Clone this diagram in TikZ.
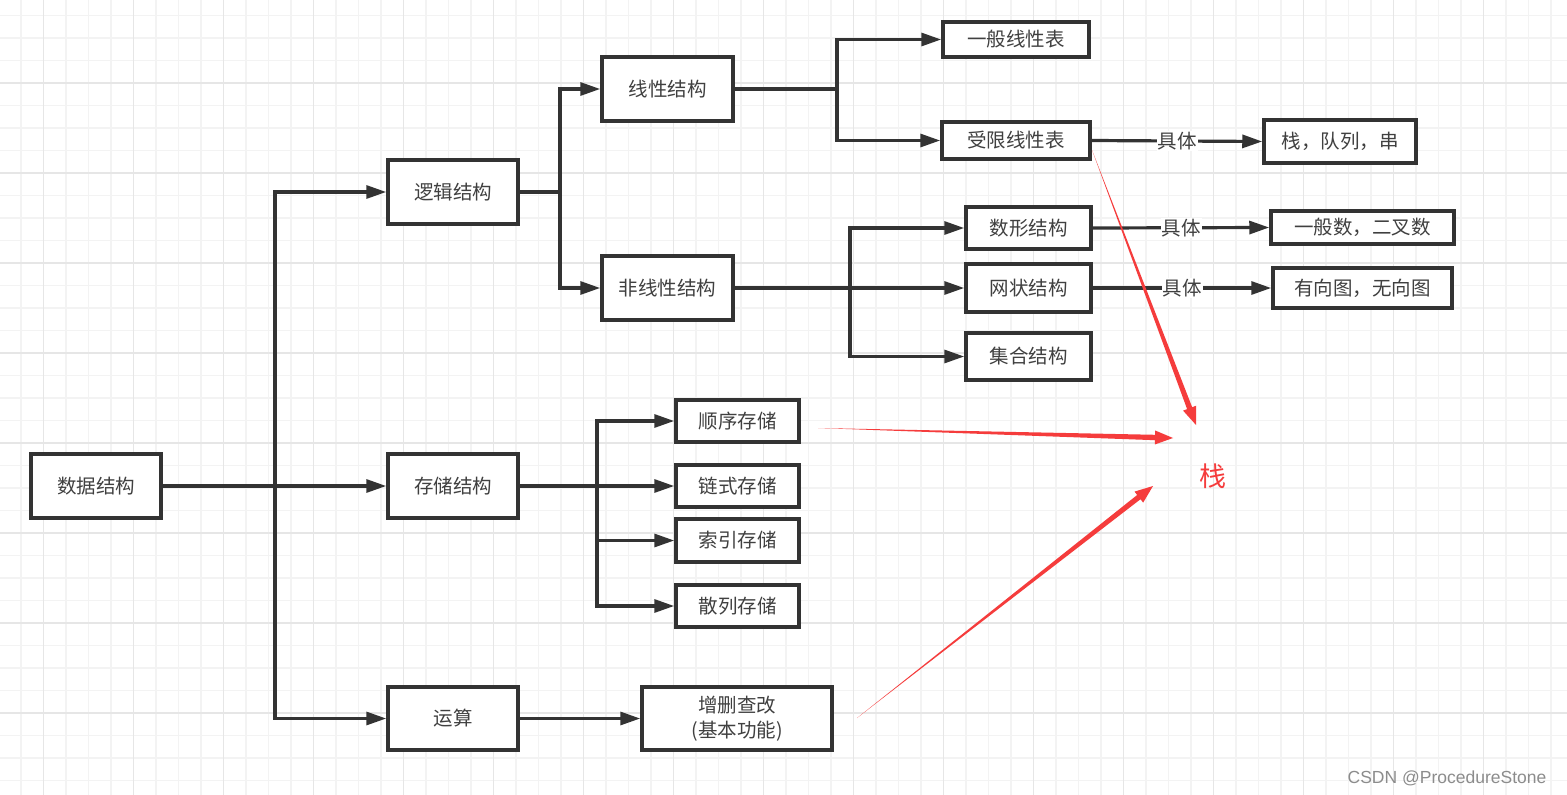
\documentclass[tikz,border=0pt]{standalone}
\usepackage{fontspec}
\setmainfont{Noto Sans CJK SC}
\newfontfamily\markfont{Liberation Sans}
\usetikzlibrary{arrows.meta, calc}
\definecolor{ink}{RGB}{51,51,51}
\definecolor{txt}{RGB}{64,64,64}
\definecolor{stackred}{RGB}{245,60,60}
\definecolor{gridminor}{RGB}{243,243,243}
\definecolor{gridmajor}{RGB}{230,230,230}
\tikzstyle{box} = [rectangle, draw=ink, line width=3.5pt, fill=white, text=txt, inner sep=0pt, align=center, font=\fontsize{19.5}{25}\selectfont]
\tikzstyle{arrow} = [draw=ink, line width=3.2pt, -{Triangle[length=20pt,width=13pt]}]
\tikzstyle{line} = [draw=ink, line width=3.2pt]
\tikzstyle{tag} = [fill=white, text=txt, inner sep=1pt, font=\fontsize{19.5}{23}\selectfont]
% tapered red pointer: start, tip, shaft half width, head half width
\newcommand{\pointer}[4]{%
  \coordinate (hd) at ($(#2)!18pt!(#1)$);
  \fill[stackred] (#1) -- ($(hd)!#3!90:(#1)$) -- ($(hd)!#4!90:(#1)$) -- (#2)
    -- ($(hd)!#4!-90:(#1)$) -- ($(hd)!#3!-90:(#1)$) -- cycle;
}

\begin{document}
\begin{tikzpicture}[x=1pt, y=-1pt]
    \useasboundingbox (0,0) rectangle (1567,795);
    \fill[white] (0,0) rectangle (1567,795);
    % grid
    \foreach \gx in {-1.5,21,...,1568} \draw[gridminor, line width=1.5pt] (\gx,0) -- (\gx,795);
    \foreach \gy in {15.5,38,...,796} \draw[gridminor, line width=1.5pt] (0,\gy) -- (1567,\gy);
    \foreach \gx in {43.5,133.5,...,1568} \draw[gridmajor, line width=1.8pt] (\gx,0) -- (\gx,795);
    \foreach \gy in {83,173,...,796} \draw[gridmajor, line width=1.8pt] (0,\gy) -- (1567,\gy);

    \node (dsjg) [box, minimum width=130pt, minimum height=64pt] at (96,486) {数据结构};
    \node (ljjg) [box, minimum width=130pt, minimum height=64pt] at (453,192) {逻辑结构};
    \node (ccjg) [box, minimum width=130pt, minimum height=64pt] at (453,486) {存储结构};
    \node (ysuan) [box, minimum width=130pt, minimum height=63pt] at (453,718.5) {运算};
    \node (xxjg) [box, minimum width=131pt, minimum height=64pt] at (667.5,89) {线性结构};
    \node (fxjg) [box, minimum width=131pt, minimum height=64pt] at (667.5,288) {非线性结构};
    \node (ybxxb) [box, minimum width=146pt, minimum height=35pt] at (1016,39.5) {一般线性表};
    \node (sxxxb) [box, minimum width=148pt, minimum height=37pt] at (1016,140.5) {受限线性表};
    \node (zdc) [box, minimum width=152pt, minimum height=43pt] at (1340,141.5) {栈，队列，串};
    \node (sxjg) [box, minimum width=125pt, minimum height=42pt] at (1028.5,228) {数形结构};
    \node (ybs) [box, minimum width=183pt, minimum height=33pt] at (1362.5,227.5) {一般数，二叉数};
    \node (wzjg) [box, minimum width=125pt, minimum height=48pt] at (1028.5,288) {网状结构};
    \node (yxt) [box, minimum width=179pt, minimum height=40pt] at (1362.5,288) {有向图，无向图};
    \node (jhjg) [box, minimum width=125pt, minimum height=47pt] at (1028.5,356.5) {集合结构};
    \node (sxcc) [box, minimum width=123pt, minimum height=42pt] at (737.5,421) {顺序存储};
    \node (lscc) [box, minimum width=123pt, minimum height=42pt] at (737.5,486) {链式存储};
    \node (sycc) [box, minimum width=123pt, minimum height=43pt] at (737.5,540.5) {索引存储};
    \node (slcc) [box, minimum width=123pt, minimum height=42pt] at (737.5,606) {散列存储};
    \node (zscg) [box, minimum width=190pt, minimum height=63pt] at (737,718.5) {增删查改\\(基本功能)};
    \node (zhan) [text=stackred, inner sep=0pt, font=\fontsize{27}{30}\selectfont] at (1213,476) {栈};

    \coordinate (t1) at (275,486);
    \coordinate (t2) at (560,192);
    \coordinate (t3) at (837,89);
    \coordinate (t4) at (850,288);
    \coordinate (t5) at (597,486);

    \draw [line, line width=4pt] (dsjg.east) -- (t1);
    \draw [arrow] (t1) -- (ccjg.west);
    \draw [arrow] (t1) |- (ljjg.west);
    \draw [arrow] (t1) |- (ysuan.west);
    \draw [line] (ljjg.east) -- (t2);
    \draw [arrow] (t2) |- (xxjg.west);
    \draw [arrow] (t2) |- (fxjg.west);
    \draw [line] (xxjg.east) -- (t3);
    \draw [arrow] (t3) |- (ybxxb.west);
    \draw [arrow] (t3) |- (sxxxb.west);
    \draw [arrow] (fxjg.east) -- (wzjg.west);
    \draw [arrow] (t4) |- (sxjg.west);
    \draw [arrow] (t4) |- (jhjg.west);
    \draw [arrow] (ccjg.east) -- (lscc.west);
    \draw [arrow] (t5) |- (sxcc.west);
    \draw [arrow] (t5) |- (sycc.west);
    \draw [arrow] (t5) |- (slcc.west);
    \draw [arrow] (ysuan.east) -- (zscg.west);
    \draw [arrow] (sxxxb.east) -- node[tag] {具体} (zdc.west);
    \draw [arrow] (sxjg.east) -- node[tag] {具体} (ybs.west);
    \draw [arrow] (wzjg.east) -- node[tag] {具体} (yxt.west);

    % red pointers to the stack
    \coordinate (r1s) at (1092,150);
    \coordinate (r1e) at (1196,425);
    \coordinate (r2s) at (818,428);
    \coordinate (r2e) at (1173,438);
    \coordinate (r3s) at (857,718);
    \coordinate (r3e) at (1153,486);
    \pointer{r1s}{r1e}{2.7pt}{7pt}
    \pointer{r2s}{r2e}{2.7pt}{7pt}
    \pointer{r3s}{r3e}{2.7pt}{7pt}

    \node (mark) [text=black!45, font=\markfont\fontsize{17.5}{20}\selectfont] at (1447,778) {CSDN @ProcedureStone};
\end{tikzpicture}
\end{document}
